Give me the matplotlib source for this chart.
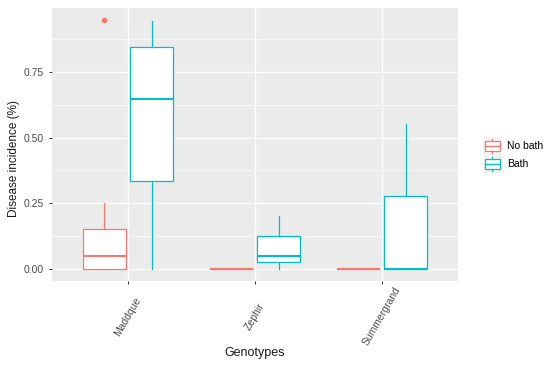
import numpy as np
import matplotlib.pyplot as plt
from matplotlib.patches import Rectangle
from matplotlib.lines import Line2D
from matplotlib.legend_handler import HandlerBase

plt.rcParams['font.family'] = ['Liberation Sans', 'DejaVu Sans']

# Данные (оценены по картинке)
genotypes = ['Maddque', 'Zephir', 'Summergrand']
groups = ['No bath', 'Bath']
colors = ['#F8766D', '#00BFC4']

# No bath
nb_whislo = [0.0, 0.0, 0.0]
nb_q1 = [0.0, 0.0, 0.0]
nb_med = [0.05, 0.0, 0.0]
nb_q3 = [0.15, 0.0, 0.0]
nb_whishi = [0.25, 0.0, 0.0]
nb_fliers = [[0.947], [], []]

# Bath
b_whislo = [0.0, 0.0, 0.0]
b_q1 = [0.335, 0.025, 0.0]
b_med = [0.648, 0.05, 0.0]
b_q3 = [0.845, 0.125, 0.276]
b_whishi = [0.944, 0.2, 0.551]
b_fliers = [[], [], []]


def make_stats(whislo, q1, med, q3, whishi, fliers):
    return [dict(whislo=a, q1=b, med=c, q3=d, whishi=e, fliers=f)
            for a, b, c, d, e, f in zip(whislo, q1, med, q3, whishi, fliers)]


stats = [make_stats(nb_whislo, nb_q1, nb_med, nb_q3, nb_whishi, nb_fliers),
         make_stats(b_whislo, b_q1, b_med, b_q3, b_whishi, b_fliers)]


class BoxHandler(HandlerBase):
    # легенда в стиле ggplot: серый квадрат с маленьким боксплотом
    def create_artists(self, legend, orig_handle, xdescent, ydescent,
                       width, height, fontsize, trans):
        c = orig_handle.get_edgecolor()
        s = height
        x0 = -xdescent + (width - s) / 2
        y0 = -ydescent + (height - s) / 2
        bg = Rectangle((x0, y0), s, s, facecolor='#F2F2F2', edgecolor='none', transform=trans)
        bx = Rectangle((x0 + s * 0.08, y0 + s * 0.22), s * 0.84, s * 0.56,
                       facecolor='white', edgecolor=c, lw=0.9, transform=trans)
        med = Line2D([x0 + s * 0.08, x0 + s * 0.92], [y0 + s / 2] * 2, color=c, lw=1.0, transform=trans)
        w1 = Line2D([x0 + s / 2] * 2, [y0 + s * 0.1, y0 + s * 0.22], color=c, lw=0.9, transform=trans)
        w2 = Line2D([x0 + s / 2] * 2, [y0 + s * 0.78, y0 + s * 0.9], color=c, lw=0.9, transform=trans)
        return [bg, bx, med, w1, w2]


fig = plt.figure(figsize=(5.5, 3.67), dpi=100)
ax = fig.add_axes([52 / 550, 1 - 281 / 367, 406 / 550, 273 / 367])
ax.set_facecolor('#EBEBEB')

x = np.arange(1, len(genotypes) + 1)
offsets = [-0.1875, 0.1875]
for st, off, col in zip(stats, offsets, colors):
    ax.bxp(st, positions=x + off, widths=0.34, patch_artist=True, showcaps=False,
           boxprops=dict(facecolor='white', edgecolor=col, lw=0.9),
           medianprops=dict(color=col, lw=1.5, solid_capstyle='butt'),
           whiskerprops=dict(color=col, lw=0.9),
           flierprops=dict(marker='o', markerfacecolor=col, markeredgecolor=col, markersize=3),
           manage_ticks=False, zorder=3)

ax.set_xlim(0.4, 3.6)
ax.set_ylim(-0.047, 0.994)
ax.set_yticks([0, 0.25, 0.5, 0.75])
ax.set_yticklabels(['0.00', '0.25', '0.50', '0.75'])
ax.set_yticks([0.125, 0.375, 0.625, 0.875], minor=True)
ax.set_xticks(x)
ax.set_xticklabels(genotypes, rotation=60, ha='center', va='center')

ax.grid(True, which='major', color='white', lw=0.9, zorder=0)
ax.grid(True, which='minor', axis='y', color='white', lw=0.5, zorder=0)
ax.set_axisbelow(True)
for sp in ax.spines.values():
    sp.set_visible(False)
ax.tick_params(which='major', length=2.5, width=0.7, color='#333333', labelcolor='#4D4D4D', labelsize=7.5)
ax.tick_params(which='minor', length=0)
ax.tick_params(axis='x', pad=23)

ax.set_xlabel('Genotypes', fontsize=9, color='#1A1A1A')
ax.xaxis.set_label_coords(0.5, -0.24)
ax.set_ylabel('Disease incidence (%)', fontsize=8.5, color='#1A1A1A')
ax.yaxis.set_label_coords(-0.08, 0.447)

handles = [Rectangle((0, 0), 1, 1, edgecolor=c, facecolor='white') for c in colors]
fig.legend(handles, groups, loc='center left', bbox_to_anchor=(474 / 550, 1 - 155 / 367),
           frameon=False, fontsize=7.5, handler_map={Rectangle: BoxHandler()},
           handlelength=2.1, handleheight=2.3, handletextpad=0.4, labelspacing=0.0,
           borderpad=0.2)

plt.savefig('out.png', dpi=100)
